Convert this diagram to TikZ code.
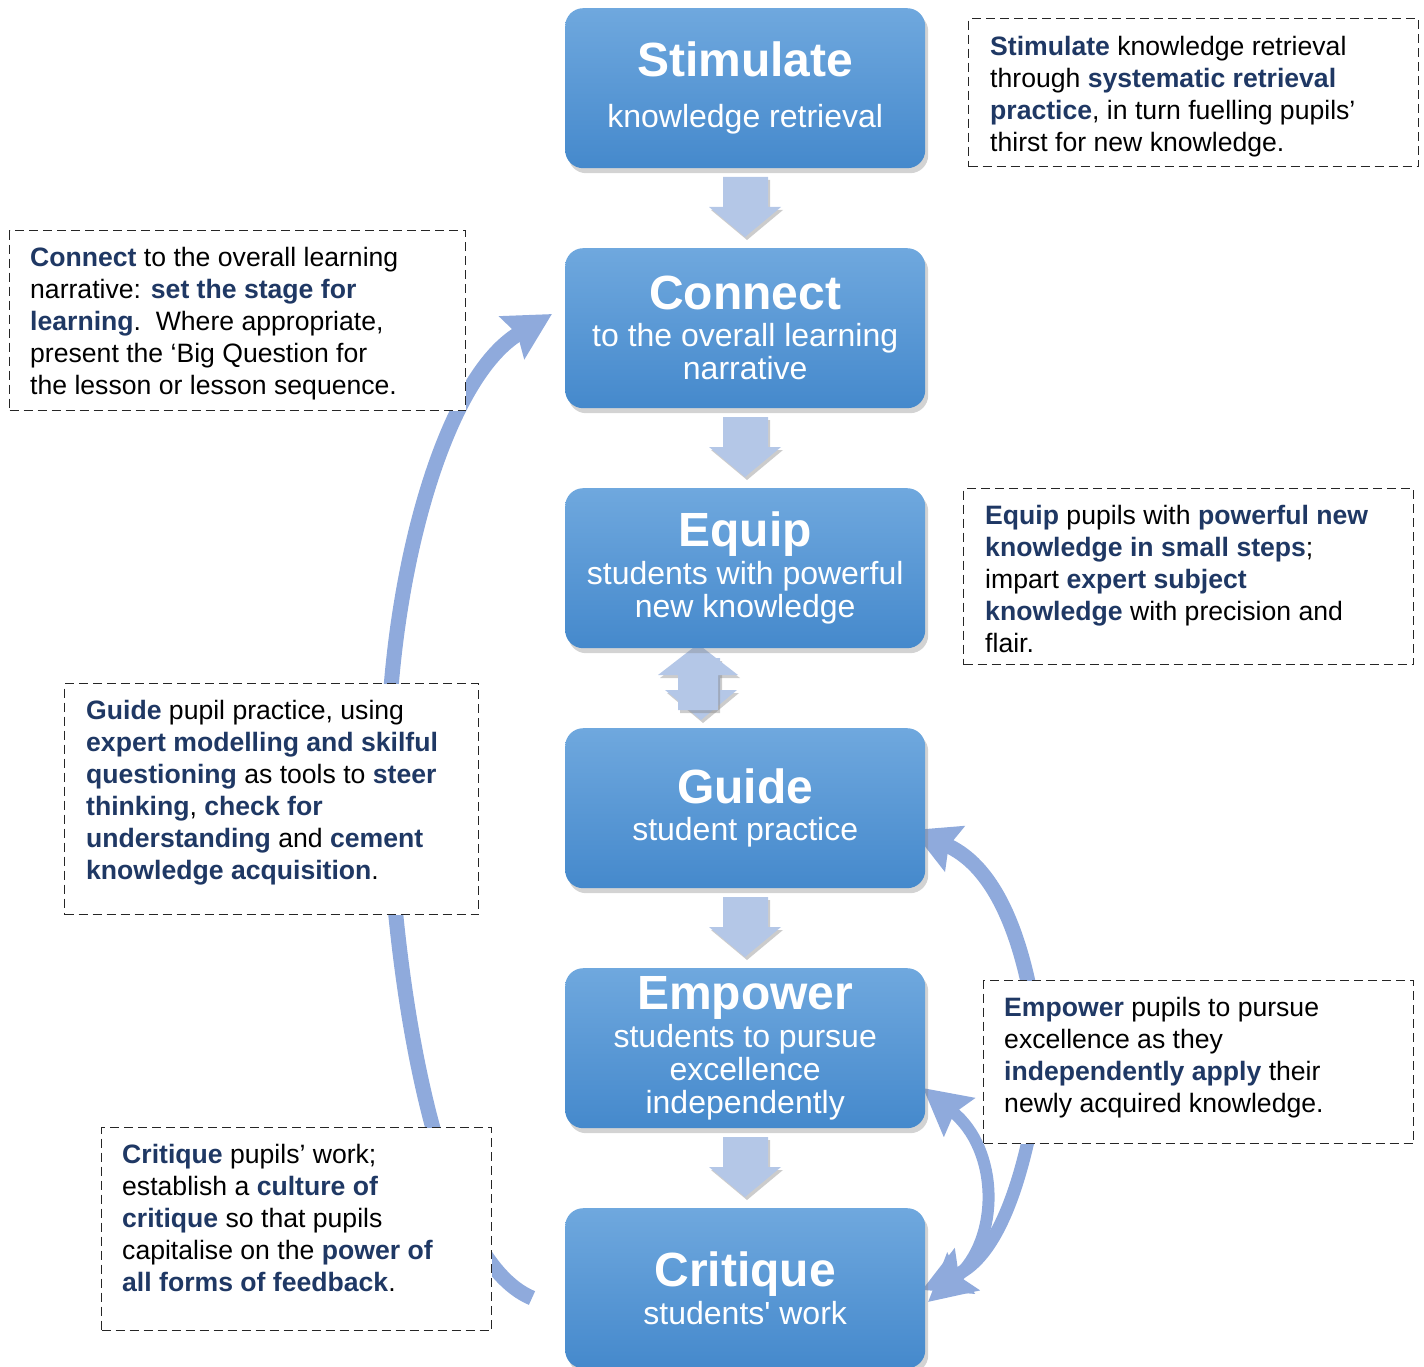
\documentclass[tikz,border=0pt]{standalone}
\usepackage{fontspec}
\setmainfont{Liberation Sans}
\usetikzlibrary{arrows.meta,shadows}

\definecolor{navy}{RGB}{31,56,100}
\definecolor{arcblue}{RGB}{143,170,220}
\definecolor{pale}{RGB}{180,199,231}
\definecolor{boxtop}{RGB}{111,168,222}
\definecolor{boxbot}{RGB}{69,137,204}
\newcommand{\hl}[1]{\textbf{\color{navy}#1}}
\newcommand{\ttl}{\fontsize{48}{54}\selectfont\bfseries}

\tikzset{
  stage/.style={rounded corners=18pt, top color=boxtop, bottom color=boxbot,
    minimum width=360pt, minimum height=160pt, anchor=north west,
    text=white, align=center, font=\fontsize{32}{33}\selectfont,
    drop shadow={shadow xshift=3pt, shadow yshift=-5pt, opacity=0.35}},
  note/.style={draw=black!85, dash pattern=on 9pt off 5pt, line width=1.4pt,
    fill=white, anchor=north west, inner sep=0pt},
  notetext/.style={anchor=north west, align=left, inner sep=0pt,
    font=\fontsize{26.6}{32}\selectfont},
  flow/.style={line width=15pt, draw=arcblue},
  tip/.style={arrows={-Stealth[length=46pt,width=48pt,inset=6pt]}},
  palearrow/.style={fill=pale, drop shadow={shadow xshift=2pt, shadow yshift=-3pt, opacity=0.4}}
}

\begin{document}
\begin{tikzpicture}[x=1pt,y=-1pt]
\useasboundingbox (0,0) rectangle (1424,1367);

% curved connectors
\coordinate (loopstart) at (532,1298);
\coordinate (loopend) at (552,314);
\draw[flow, tip] (loopstart) .. controls (440,1260) and (395,1000) .. (388,800)
  .. controls (382,600) and (440,380) .. (loopend);
\coordinate (empup) at (1028,982);
\coordinate (guideend) at (912,830);
\draw[flow, tip] (empup) .. controls (1012,910) and (985,862) .. (guideend);
\coordinate (empdown) at (1028,1141);
\coordinate (critend) at (922,1290);
\draw[flow, line width=13pt, tip] (empdown) .. controls (1010,1220) and (985,1262) .. (critend);
\coordinate (emptop) at (923,1088);
\coordinate (critbot) at (928,1302);
\draw[flow, line width=12pt, arrows={Stealth[length=46pt,width=48pt,inset=6pt]-Stealth[length=46pt,width=48pt,inset=6pt]}]
  (emptop) .. controls (1000,1150) and (1000,1240) .. (critbot);

% block arrows between stages
\foreach \y in {0,240,720,960}
  \fill[palearrow, yshift=-\y pt] (723,177) -- (768,177) -- (768,207) -- (781,207)
    -- (745,237) -- (709,207) -- (723,207) -- cycle;
\fill[palearrow] (680,658) -- (720,658) -- (720,690) -- (737,690) -- (701,720)
  -- (665,690) -- (680,690) -- cycle;
\fill[palearrow] (678,710) -- (718,710) -- (718,675) -- (738,675) -- (698,644)
  -- (658,675) -- (678,675) -- cycle;

% stages
\node[stage] (stim) at (565,8) {{\ttl Stimulate}\\[18pt]knowledge retrieval};
\node[stage] (conn) at (565,248) {{\ttl Connect}\\[4pt]to the overall learning\\narrative};
\node[stage] (equip) at (565,488) {{\ttl Equip}\\[4pt]students with powerful\\new knowledge};
\node[stage] (guide) at (565,728) {{\ttl Guide}\\[4pt]student practice};
\node[stage] (emp) at (565,968) {{\ttl Empower}\\[4pt]students to pursue\\excellence\\independently};
\node[stage] (crit) at (565,1208) {{\ttl Critique}\\[4pt]students\textquotesingle\ work};

% notes
\node[note, minimum width=450pt, minimum height=148pt] (stimnote) at (968,18) {};
\node[notetext] (stimtext) at (990,36) {\hl{Stimulate} knowledge retrieval\\
  through \hl{systematic retrieval}\\
  \hl{practice}, in turn fuelling pupils’\\
  thirst for new knowledge.};

\node[note, minimum width=456pt, minimum height=180pt] (connnote) at (9,230) {};
\node[notetext] (conntext) at (30,247) {\hl{Connect} to the overall learning\\
  narrative: \hl{set the stage for}\\
  \hl{learning}.\ \ Where appropriate,\\
  present the ‘Big Question for\\
  the lesson or lesson sequence.};

\node[note, minimum width=450pt, minimum height=176pt] (equipnote) at (963,488) {};
\node[notetext] (equiptext) at (985,505) {\hl{Equip} pupils with \hl{powerful new}\\
  \hl{knowledge in small steps};\\
  impart \hl{expert subject}\\
  \hl{knowledge} with precision and\\
  flair.};

\node[note, minimum width=414pt, minimum height=231pt] (guidenote) at (64,683) {};
\node[notetext] (guidetext) at (86,700) {\hl{Guide} pupil practice, using\\
  \hl{expert modelling and skilful}\\
  \hl{questioning} as tools to \hl{steer}\\
  \hl{thinking}, \hl{check for}\\
  \hl{understanding} and \hl{cement}\\
  \hl{knowledge acquisition}.};

\node[note, minimum width=430pt, minimum height=163pt] (empnote) at (983,980) {};
\node[notetext] (emptext) at (1004,997) {\hl{Empower} pupils to pursue\\
  excellence as they\\
  \hl{independently apply} their\\
  newly acquired knowledge.};

\node[note, minimum width=390pt, minimum height=203pt] (critnote) at (101,1127) {};
\node[notetext] (crittext) at (122,1144) {\hl{Critique} pupils’ work;\\
  establish a \hl{culture of}\\
  \hl{critique} so that pupils\\
  capitalise on the \hl{power of}\\
  \hl{all forms of feedback}.};
\end{tikzpicture}
\end{document}
